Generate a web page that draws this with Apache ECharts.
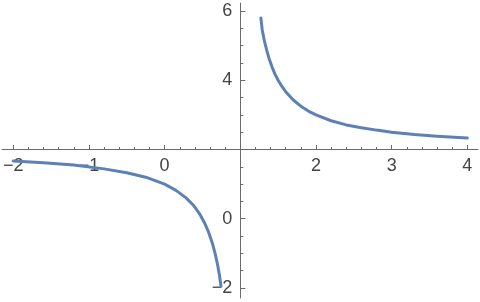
<!DOCTYPE html>
<html>
<head>
<meta charset="utf-8">
<script src="https://cdn.jsdelivr.net/npm/echarts@6/dist/echarts.min.js"></script>
<style>html,body{margin:0;padding:0;background:#fff}#c{width:480px;height:302px}</style>
</head>
<body>
<div id="c"></div>
<script>
// Left branch
var xLeft = [-2, -1.6, -1.2, -0.8, -0.5, -0.25, 0, 0.15, 0.28, 0.38, 0.46, 0.53, 0.58, 0.63, 0.67, 0.70, 0.725, 0.745];
var yLeft = [1.67, 1.62, 1.55, 1.44, 1.33, 1.20, 1.00, 0.82, 0.61, 0.39, 0.15, -0.13, -0.38, -0.70, -1.03, -1.33, -1.64, -1.95];
// Right branch
var xRight = [1.272, 1.29, 1.32, 1.35, 1.38, 1.42, 1.46, 1.5, 1.55, 1.6, 1.7, 1.8, 1.9, 2.0, 2.2, 2.4, 2.6, 2.8, 3.0, 3.3, 3.6, 4.0];
var yRight = [5.80, 5.45, 5.12, 4.86, 4.63, 4.38, 4.17, 4.00, 3.82, 3.67, 3.43, 3.25, 3.11, 3.00, 2.83, 2.71, 2.63, 2.56, 2.50, 2.43, 2.38, 2.33];

var xMajorTicks = [-2, -1, 0, 1, 2, 3, 4];
var xTickLabels = [-2, -1, 0, 2, 3, 4];
var xMinorTicks = [-1.8, -1.6, -1.4, -1.2, -0.8, -0.6, -0.4, -0.2, 0.2, 0.4, 0.6, 0.8, 1.2, 1.4, 1.6, 1.8, 2.2, 2.4, 2.6, 2.8, 3.2, 3.4, 3.6, 3.8];
var yMajorTicks = [-2, 0, 2, 4, 6];
var yTickLabels = [-2, 0, 4, 6];
var yMinorTicks = [-1.5, -1, -0.5, 0.5, 1, 1.5, 2.5, 3, 3.5, 4.5, 5, 5.5];

function pairs(xs, ys) { return xs.map(function (x, i) { return [x, ys[i]]; }); }

var X_MIN = -2.147, X_MAX = 4.141, Y_MIN = -2.289, Y_MAX = 6.231;
var axisColor = '#6b6b6b';
var labelStyle = {
  color: '#444', fontSize: 18, fontFamily: 'Liberation Sans, Arial, sans-serif',
  formatter: function (v) { return String(v).replace('-', '\u2212'); }
};

var chart = echarts.init(document.getElementById('c'), null, { renderer: 'canvas' });
chart.setOption({
  animation: false,
  backgroundColor: '#fff',
  grid: { left: 2, right: 2, top: 3, bottom: 4, containLabel: false },
  xAxis: [{
    type: 'value', min: X_MIN, max: X_MAX, position: 'bottom', offset: -148.5,
    axisLine: { show: true, onZero: false, lineStyle: { color: axisColor, width: 1 } },
    axisTick: { show: true, inside: true, length: 4.5, customValues: xMajorTicks, lineStyle: { color: axisColor } },
    axisLabel: Object.assign({ show: true, margin: 8, customValues: xTickLabels, showMinLabel: true, showMaxLabel: true }, labelStyle),
    splitLine: { show: false }
  }, {
    type: 'value', min: X_MIN, max: X_MAX, position: 'bottom', offset: -148.5,
    axisLine: { show: false, onZero: false },
    axisTick: { show: true, inside: true, length: 2.5, customValues: xMinorTicks, lineStyle: { color: axisColor } },
    axisLabel: { show: false },
    splitLine: { show: false }
  }],
  yAxis: [{
    type: 'value', min: Y_MIN, max: Y_MAX, position: 'left', offset: -238.2,
    axisLine: { show: true, onZero: false, lineStyle: { color: axisColor, width: 1 } },
    axisTick: { show: true, inside: true, length: 5, customValues: yMajorTicks, lineStyle: { color: axisColor } },
    axisLabel: Object.assign({ show: true, margin: 8, customValues: yTickLabels, showMinLabel: true, showMaxLabel: true }, labelStyle),
    splitLine: { show: false }
  }, {
    type: 'value', min: Y_MIN, max: Y_MAX, position: 'left', offset: -238.2,
    axisLine: { show: false, onZero: false },
    axisTick: { show: true, inside: true, length: 3, customValues: yMinorTicks, lineStyle: { color: axisColor } },
    axisLabel: { show: false },
    splitLine: { show: false }
  }],
  series: [{
    type: 'line', xAxisIndex: 0, yAxisIndex: 0, data: pairs(xLeft, yLeft),
    showSymbol: false, smooth: false,
    lineStyle: { color: '#5e81b5', width: 3, join: 'round', cap: 'round' }, clip: true
  }, {
    type: 'line', xAxisIndex: 0, yAxisIndex: 0, data: pairs(xRight, yRight),
    showSymbol: false, smooth: false,
    lineStyle: { color: '#5e81b5', width: 3, join: 'round', cap: 'round' }, clip: true
  }]
});
</script>
</body>
</html>
